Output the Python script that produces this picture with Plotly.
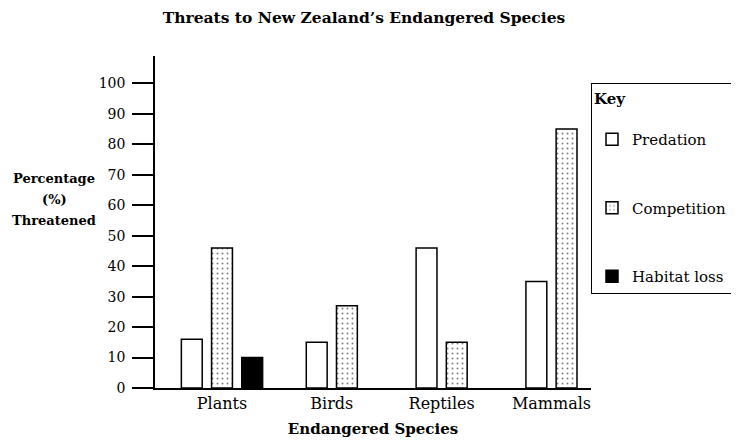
import plotly.graph_objects as go

# ---- data ----
categories = ["Plants", "Birds", "Reptiles", "Mammals"]
series_names = ["Predation", "Competition", "Habitat loss"]
predation = [16, 15, 46, 35]
competition = [46, 27, 15, 85]
habitat_loss = [10, None, None, None]
y_ticks = [0, 10, 20, 30, 40, 50, 60, 70, 80, 90, 100]
y_title_lines = ["Percentage", "(%)", "Threatened"]

series_values = [predation, competition, habitat_loss]

# ---- layout of bars within each category (derived from which series are present) ----
SLOT = 0.275
BAR_W = 0.19

def offsets_for(series_idx):
    offs = []
    for ci in range(len(categories)):
        present = [si for si, vals in enumerate(series_values) if vals[ci] is not None]
        if series_idx in present:
            k = present.index(series_idx)
            n = len(present)
            center = (k - (n - 1) / 2) * SLOT
            offs.append(center - BAR_W / 2)
        else:
            offs.append(0)
    return offs

styles = [
    dict(color="white", pattern=None),
    dict(color="white", pattern=dict(shape=".", fgcolor="black", bgcolor="white", size=5, solidity=0.12)),
    dict(color="black", pattern=None),
]

SERIF = "DejaVu Serif"
# page body has an 8px default margin; figure is sized to fill the rest
PAGE_OFF = 8
W, H = 739 - PAGE_OFF, 447 - PAGE_OFF

fig = go.Figure()
for si, (name, vals) in enumerate(zip(series_names, series_values)):
    marker = dict(color=styles[si]["color"], line=dict(color="black", width=1.5))
    if styles[si]["pattern"]:
        marker["pattern"] = styles[si]["pattern"]
    fig.add_trace(go.Bar(
        x=categories, y=vals, name=name,
        width=[BAR_W] * len(categories),
        offset=offsets_for(si),
        marker=marker,
        legendgroup=name,
        hoverinfo="x+y+name",
    ))

annotations = []
for i, line in enumerate(y_title_lines):
    annotations.append(dict(
        text=f"<b>{line}</b>",
        xref="paper", yref="paper",
        x=(53 - 155) / 441, y=(388 - (178 + 21 * i)) / 332,
        xanchor="center", yanchor="middle",
        showarrow=False, align="center",
        font=dict(family=SERIF, size=13),
    ))

fig.update_layout(
    width=W, height=H,
    margin=dict(l=155 - PAGE_OFF, r=143, t=56 - PAGE_OFF, b=59),
    paper_bgcolor="white", plot_bgcolor="white",
    barmode="overlay",
    font=dict(family=SERIF, size=16, color="black"),
    title=dict(
        text="<b>Threats to New Zealand’s Endangered Species</b>",
        x=(364 - PAGE_OFF) / W, xanchor="center", xref="container",
        y=1 - (18 - PAGE_OFF) / H, yanchor="middle", yref="container",
        font=dict(family=SERIF, size=15.5, color="black"),
    ),
    xaxis=dict(
        type="category",
        range=[-0.61, 3.36],
        showline=True, linecolor="black", linewidth=1.5,
        ticks="", showgrid=False, zeroline=False,
        tickfont=dict(family=SERIF, size=16),
        title=dict(text="<b>Endangered Species</b>", font=dict(family=SERIF, size=15), standoff=12),
        automargin=False,
    ),
    yaxis=dict(
        range=[0, 109],
        tickvals=y_ticks,
        ticktext=[str(v) for v in y_ticks],
        ticks="outside", ticklen=21, tickwidth=1.5, tickcolor="black",
        showline=True, linecolor="black", linewidth=1.5,
        showgrid=False, zeroline=False,
        tickfont=dict(family=SERIF, size=14),
        ticklabelstandoff=4,
        automargin=False,
    ),
    legend=dict(
        xref="container", yref="container",
        x=(591 - PAGE_OFF) / W, xanchor="left",
        y=1 - (83 - PAGE_OFF) / H, yanchor="top",
        bordercolor="black", borderwidth=1,
        bgcolor="white",
        title=dict(text="<b>Key</b><br> ", font=dict(family=SERIF, size=15)),
        font=dict(family=SERIF, size=15),
        tracegroupgap=46,
        traceorder="grouped",
    ),
    annotations=annotations,
)

fig.write_html("out.html")
